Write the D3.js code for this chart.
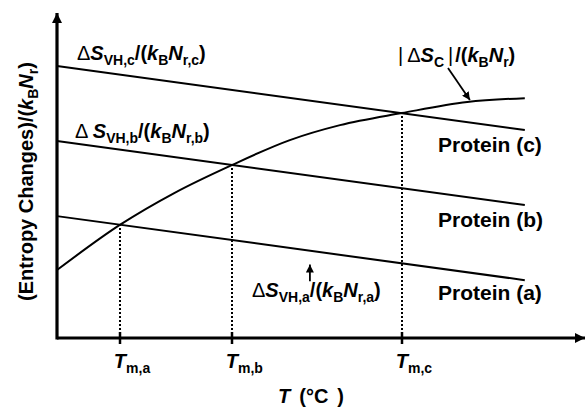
<!DOCTYPE html>
<html><head><meta charset="utf-8">
<script src="https://cdn.jsdelivr.net/npm/d3@7"></script>
<style>
html,body{margin:0;padding:0;background:#fff;}
svg{display:block;font-family:"Liberation Sans",Arial,Helvetica,sans-serif;font-weight:bold;}
</style></head>
<body>
<script>
// ---- data (abstract units) ----
const lineT = [0, 88.6];                  // T range of the straight lines
const proteinA = [37.5, 17.8];            // ΔS_VH,a/(kB Nr,a)
const proteinB = [60.6, 40.9];            // ΔS_VH,b/(kB Nr,b)
const proteinC = [83.7, 64.0];            // ΔS_VH,c/(kB Nr,c)
const curveT = [0, 11.9, 22.2, 33.1, 44.1, 53.6, 65.3, 77.7, 88.6];
const curveS = [20.9, 34.8, 44.6, 53.2, 60.9, 65.5, 69.2, 72.6, 73.8]; // |ΔS_C|/(kB Nr)
const tmT = [11.9, 33.1, 65.3];           // Tm,a  Tm,b  Tm,c
const tmS = [34.8, 53.2, 69.2];           // crossing values
const tmLabels = ["m,a", "m,b", "m,c"];
const proteinLabels = ["Protein (c)", "Protein (b)", "Protein (a)"];

const W = 587, H = 408;
const x = d3.scaleLinear().domain([0, 100]).range([57, 585]);
const y = d3.scaleLinear().domain([0, 100]).range([338, 13]);

const svg = d3.select("body").append("svg").attr("width", W).attr("height", H);

const defs = svg.append("defs");
defs.append("marker").attr("id", "ah").attr("viewBox", "0 0 10 10")
  .attr("refX", 10).attr("refY", 5).attr("markerWidth", 8).attr("markerHeight", 8)
  .attr("markerUnits", "userSpaceOnUse").attr("orient", "auto")
  .append("path").attr("d", "M0,0L10,5L0,10Z").attr("fill", "#000");
defs.append("marker").attr("id", "axh").attr("viewBox", "0 0 10 10")
  .attr("refX", 10).attr("refY", 5).attr("markerWidth", 11).attr("markerHeight", 10)
  .attr("markerUnits", "userSpaceOnUse").attr("orient", "auto")
  .append("path").attr("d", "M0,0L10,5L0,10Z").attr("fill", "#000");

// dotted verticals
svg.selectAll(".dot").data(tmT).enter().append("line")
  .attr("x1", d => Math.round(x(d))).attr("x2", d => Math.round(x(d)))
  .attr("y1", y(0)).attr("y2", (d, i) => y(tmS[i]))
  .attr("stroke", "#000").attr("stroke-width", 2).attr("stroke-dasharray", "2,2")
  .attr("shape-rendering", "crispEdges");

// straight lines
const line = d3.line().x((d, i) => x(lineT[i])).y(d => y(d));
[proteinA, proteinB, proteinC].forEach(s => {
  svg.append("path").attr("d", line(s)).attr("fill", "none")
    .attr("stroke", "#000").attr("stroke-width", 2);
});
// curve
const cl = d3.line().x((d, i) => x(curveT[i])).y(d => y(d)).curve(d3.curveMonotoneX);
svg.append("path").attr("d", cl(curveS)).attr("fill", "none")
  .attr("stroke", "#000").attr("stroke-width", 2);

// axes
svg.append("line").attr("x1", x(0)).attr("y1", y(0)).attr("x2", x(100)).attr("y2", y(0))
  .attr("stroke", "#000").attr("stroke-width", 3.2).attr("marker-end", "url(#axh)");
svg.append("line").attr("x1", x(0)).attr("y1", y(0) + 1.5).attr("x2", x(0)).attr("y2", y(100))
  .attr("stroke", "#000").attr("stroke-width", 3.2).attr("marker-end", "url(#axh)");
// ticks
svg.selectAll(".tk").data(tmT).enter().append("line")
  .attr("x1", d => Math.round(x(d))).attr("x2", d => Math.round(x(d)))
  .attr("y1", y(0) - 6).attr("y2", y(0) + 6)
  .attr("stroke", "#000").attr("stroke-width", 2.5);

// rich text helper
function rich(px, py, parts, rotate) {
  const t = svg.append("text").attr("x", px).attr("y", py).attr("font-size", 20);
  if (rotate) t.attr("transform", `rotate(-90,${px},${py})`);
  let sub = false;
  parts.forEach(p => {
    const s = t.append("tspan").text(p.t);
    if (p.sub && !sub) { s.attr("dy", 5); sub = true; }
    else if (!p.sub && sub) { s.attr("dy", -5); sub = false; }
    if (p.dx) s.attr("dx", p.dx);
    s.attr("font-size", p.sub ? 14 : 20);
    if (p.i) s.attr("font-style", "italic");
    if (p.n) s.attr("font-weight", "normal");
  });
  return t;
}
const dS = (sub) => [{t: "Δ", n: 1}, {t: "S", i: 1}, {t: sub, sub: 1}];
const kN = (sub) => [{t: "/("}, {t: "k", i: 1}, {t: "B", sub: 1}, {t: "N", i: 1}, {t: sub, sub: 1}, {t: ")"}];

rich(77, 60, [...dS("VH,c"), ...kN("r,c")]);
rich(75, 138, [{t: "Δ ", n: 1}, {t: "S", i: 1}, {t: "VH,b", sub: 1}, ...kN("r,b")]);
rich(252, 297, [...dS("VH,a"), ...kN("r,a")]);
rich(398, 62, [{t: "|", n: 1}, {t: "Δ", n: 1, dx: 4}, {t: "S", i: 1}, {t: "C", sub: 1}, {t: "|", n: 1, dx: 4}, {t: "/(", dx: 2}, {t: "k", i: 1}, {t: "B", sub: 1}, {t: "N", i: 1}, {t: "r", sub: 1}, {t: ")"}]);

// protein labels
const plY = [152, 227, 300];
proteinLabels.forEach((l, i) => {
  svg.append("text").attr("x", 438).attr("y", plY[i]).attr("font-size", 21).text(l);
});

// annotation arrows
svg.append("line").attr("x1", x(74.05)).attr("y1", y(83.1)).attr("x2", x(78.2)).attr("y2", y(73.2))
  .attr("stroke", "#000").attr("stroke-width", 1.8).attr("marker-end", "url(#ah)");
svg.append("line").attr("x1", x(47.9)).attr("y1", y(17.5)).attr("x2", x(47.9)).attr("y2", y(22.6))
  .attr("stroke", "#000").attr("stroke-width", 1.8).attr("marker-end", "url(#ah)");

// tick labels
tmT.forEach((d, i) => {
  rich(x(d) - 6, 368, [{t: "T", i: 1}, {t: tmLabels[i], sub: 1}]);
});

// axis titles
rich(278, 403, [{t: "T", i: 1}, {t: "(°C", dx: 9}, {t: ")", dx: 9}]);
rich(33, 301, [{t: "(Entropy Changes)/("}, {t: "k", i: 1}, {t: "B", sub: 1}, {t: "N", i: 1}, {t: "r", sub: 1}, {t: ")"}], true);
</script>
</body></html>
